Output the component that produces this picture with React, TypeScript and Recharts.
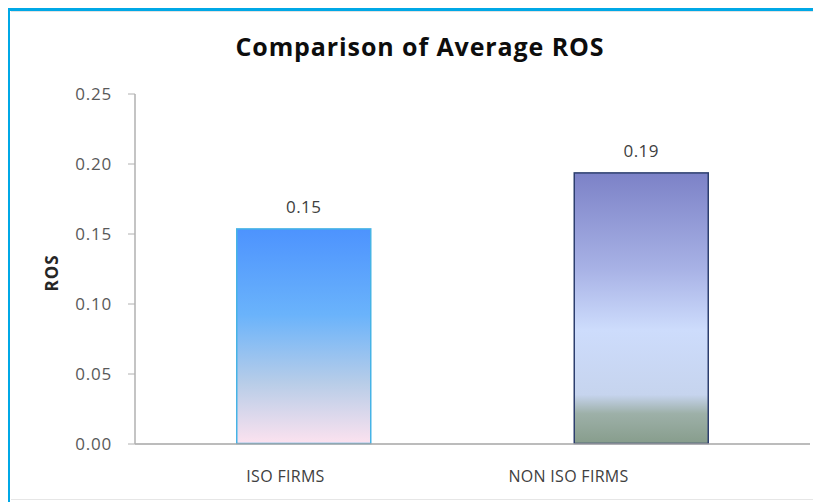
import { BarChart, Bar, XAxis, YAxis, LabelList } from "recharts";

const categories = ["ISO FIRMS", "NON ISO FIRMS"];
const rosValues = [0.154, 0.194];
const rosLabels = ["0.15", "0.19"];
const yTicks = [0, 0.05, 0.1, 0.15, 0.2, 0.25];

const data = categories.map((name, i) => ({ name, ros: rosValues[i], label: rosLabels[i] }));

const FONT = "'Open Sans', sans-serif";

const BarShape = (props: any) => {
  const { x, y, width, height, index } = props;
  const fill = index === 0 ? "url(#gradIso)" : "url(#gradNonIso)";
  const stroke = index === 0 ? "#46b3e6" : "#2c3e6e";
  return (
    <rect x={x + 0.5} y={y + 0.5} width={width - 1} height={height - 1} fill={fill} stroke={stroke} strokeWidth={1.5} />
  );
};

export default function App() {
  return (
    <div style={{ position: "relative", width: 813, height: 494, background: "#fff", fontFamily: FONT }}>
      <div style={{ position: "absolute", left: 0, top: 0, width: 813, height: 3, background: "#00a8e6" }} />
      <div style={{ position: "absolute", left: -1, top: 0, width: 3, height: 494, background: "#00a8e6" }} />
      <div style={{ position: "absolute", left: 3, top: 3, width: 810, height: 1, background: "#e2e2e2" }} />
      <div style={{ position: "absolute", left: 3, top: 491, width: 810, height: 1, background: "#e6e6e6" }} />
      <div
        style={{
          position: "absolute",
          left: 0,
          width: 824,
          top: 21,
          textAlign: "center",
          fontSize: 25,
          fontWeight: 700,
          letterSpacing: 0.9,
          color: "#0d0d0d",
        }}
      >
        Comparison of Average ROS
      </div>
      <BarChart
        width={813}
        height={494}
        data={data}
        margin={{ top: 86, right: 11, bottom: 18, left: 67 }}
        barCategoryGap="30%"
        style={{ position: "absolute", left: 0, top: 0 }}
      >
        <defs>
          <linearGradient id="gradIso" x1="0" y1="0" x2="0" y2="1">
            <stop offset="0%" stopColor="#4d93fe" />
            <stop offset="40%" stopColor="#6ab3fb" />
            <stop offset="72%" stopColor="#b8cde8" />
            <stop offset="100%" stopColor="#fce2ef" />
          </linearGradient>
          <linearGradient id="gradNonIso" x1="0" y1="0" x2="0" y2="1">
            <stop offset="0%" stopColor="#7c82c7" />
            <stop offset="35%" stopColor="#a7b1e5" />
            <stop offset="58%" stopColor="#cddcfc" />
            <stop offset="82%" stopColor="#c6d4ee" />
            <stop offset="89%" stopColor="#9db0a8" />
            <stop offset="100%" stopColor="#879d8c" />
          </linearGradient>
        </defs>
        <XAxis xAxisId="bars" dataKey="name" hide height={0} />
        <XAxis
          xAxisId="labels"
          dataKey="name"
          height={40}
          padding={{ left: 9, right: 100 }}
          axisLine={{ stroke: "#a6a6a6", strokeWidth: 1.5 }}
          tickLine={false}
          tickMargin={21}
          tick={{ fill: "#404040", fontSize: 16, fontFamily: FONT, letterSpacing: 0.3 }}
          interval={0}
        />
        <YAxis
          domain={[0, 0.25]}
          ticks={yTicks}
          width={60}
          tickFormatter={(v: number) => v.toFixed(2)}
          axisLine={{ stroke: "#b0b0b0", strokeWidth: 1.5 }}
          tickLine={{ stroke: "#b0b0b0" }}
          tickSize={7}
          tickMargin={16}
          tick={{ fill: "#595959", fontSize: 17, fontFamily: FONT, letterSpacing: 0.8 }}
          label={{
            value: "ROS",
            angle: -90,
            position: "insideLeft",
            dx: -28,
            dy: 4,
            style: { fill: "#262626", fontSize: 17, fontWeight: 700, fontFamily: FONT, letterSpacing: 1, textAnchor: "middle" },
          }}
        />
        <Bar dataKey="ros" xAxisId="bars" shape={<BarShape />} isAnimationActive={false}>
          <LabelList
            dataKey="label"
            position="top"
            offset={15}
            style={{ fill: "#404040", fontSize: 17, fontFamily: FONT, letterSpacing: 0.5 }}
          />
        </Bar>
      </BarChart>
    </div>
  );
}
